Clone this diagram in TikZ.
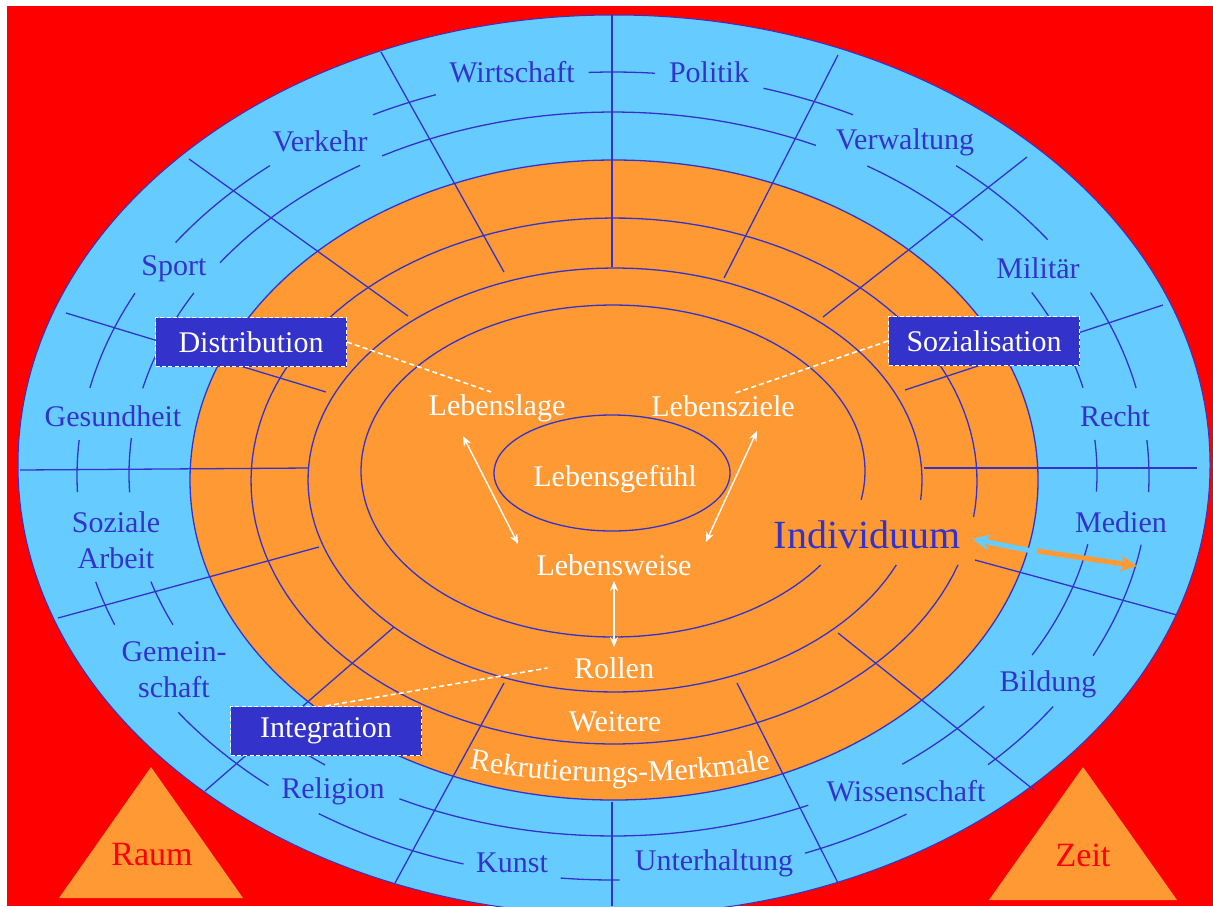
\documentclass[tikz,border=0pt]{standalone}
\usepackage{fontspec}
\setmainfont{Liberation Serif}
\usetikzlibrary{arrows.meta,decorations.text}

\definecolor{bgred}{RGB}{255,0,0}
\definecolor{ringblue}{RGB}{102,204,255}
\definecolor{ringorange}{RGB}{255,153,51}
\definecolor{lineblue}{RGB}{51,51,204}

\begin{document}
\begin{tikzpicture}[x=0.5pt, y=-0.5pt,
	grid/.style={draw=lineblue, line width=0.65pt},
	field/.style={text=lineblue, font=\fontsize{15}{18}\selectfont, align=center, inner sep=1pt},
	life/.style={text=white, font=\fontsize{15}{18}\selectfont, inner sep=1pt},
	sector/.style={fill=lineblue, draw=white, line width=0.6pt, dash pattern=on 2pt off 1.2pt,
		text=white, font=\fontsize{15}{18}\selectfont, minimum width=95.5pt, minimum height=24.5pt},
	link/.style={draw=white, line width=0.8pt, dash pattern=on 2.5pt off 1.6pt},
	lifearrow/.style={draw=white, line width=0.7pt, {Stealth[length=5pt,width=4pt]}-{Stealth[length=5pt,width=4pt]}},
	axis/.style={text=bgred, font=\fontsize{17}{20}\selectfont},
]
\useasboundingbox (0,0) rectangle (1213,906);
\clip (0,0) rectangle (1213,906);
\fill[white] (0,0) rectangle (1213,906);
\fill[bgred] (7,6) rectangle (1213,906);

% rings
\filldraw[fill=ringblue, draw=lineblue, line width=0.5pt] (614,465) ellipse [x radius=596, y radius=450];
\filldraw[fill=ringorange, grid] (614,480) ellipse [x radius=424, y radius=320];
\foreach \cx/\cy/\rx/\ry/\a/\b in {614/481/363/263/18.6/367.9, 615/480/307/212/23.6/365.4, 613/471/252/166/34.5/370}
	\draw[grid] plot[domain=\a:\b, samples=150] ({\cx+\rx*cos(\x)},{\cy+\ry*sin(\x)});
\draw[grid] (612,473) ellipse [x radius=118, y radius=58];

% sector lines
\foreach \xa/\ya/\xb/\yb in {612/15/612/267, 381/52/504/272, 189/159/408/316, 66/313/326/392,
	20/470/308/468, 58/618/319/547, 205/791/394/627, 395/883/504/683, 612/802/612/906,
	838/883/737/683, 1034/790/838/633, 1177/615/975/560, 1197/468/924/468,
	1163/305/905/390, 1027/157/823/317, 838/55/724/278}
	\draw[grid] (\xa,\ya) -- (\xb,\yb);

% broken arcs of the outer field
\foreach \a/\b in {-92.6/-85.5, -116.6/-109.3, -144.7/-129.8, -167.4/-153.1, 177.7/185.1, 158.4/164.8,
	130/144.2, 106.2/123.3, 89.3/95.6, 56.8/69, 34.8/45.6, 9.8/26.4, -5.1/2.3, -27/-12.6, -50.2/-35.8, -73.7/-63.4}
	\draw[grid] plot[domain=\a:\b, samples=20] ({613+536*cos(\x)},{476+404*sin(\x)});
\foreach \a/\b in {-118.5/-65.2, -144.3/-121.5, -166.3/-150, 177.1/185.7, 155.4/162.7, 126.5/140,
	66.2/116.2, 39.9/53.3, 11.2/30, -5.4/2.8, -30.1/-13.8, -58.3/-40.2}
	\draw[grid] plot[domain=\a:\b, samples=30] ({613+484*cos(\x)},{474+362*sin(\x)});

% fields
\node[field] (wirt) at (512,72) {Wirtschaft};
\node[field] (pol) at (709,72) {Politik};
\node[field] (verk) at (320,141) {Verkehr};
\node[field] (verw) at (905,142) {Verwaltung};
\node[field] (sport) at (174,269) {Sport};
\node[field] (mil) at (1038,268) {Militär};
\node[field] (ges) at (113,416) {Gesundheit};
\node[field] (recht) at (1115,416) {Recht};
\node[field] (sozarb) at (116,540) {Soziale\\Arbeit};
\node[field] (med) at (1121,522) {Medien};
\node[field] (gem) at (174,670) {Gemein-\\schaft};
\node[field] (bild) at (1048,684) {Bildung};
\node[field] (rel) at (333,791) {Religion};
\node[field] (wiss) at (906,791) {Wissenschaft};
\node[field] (kunst) at (512,863) {Kunst};
\node[field] (unter) at (714,863) {Unterhaltung};
\node[field, font=\fontsize{20}{24}\selectfont] (ind) at (867,535) {Individuum};

% inner circle
\node[life] (lage) at (497,408) {Lebenslage};
\node[life] (ziele) at (723,406) {Lebensziele};
\node[life] (gefuehl) at (615,479) {Lebensgefühl};
\node[life] (weise) at (614,565) {Lebensweise};
\node[life] (rollen) at (614,668) {Rollen};
\node[life] (weitere) at (615,722) {Weitere};
\path[decorate, decoration={text along path, text align=center,
	text={|\color{white}\fontsize{15}{18}\selectfont|Rekrutierungs-Merkmale}}]
	(362,728) .. controls (450,800) and (790,800) .. (878,728);

\draw[lifearrow] ([shift={(-17pt,-6pt)}]lage.south) -- ([shift={(-8pt,4pt)}]weise.north west);
\draw[lifearrow] ([shift={(17pt,-6pt)}]ziele.south) -- ([shift={(6pt,5pt)}]weise.north east);
\draw[lifearrow] ([yshift=-1.5pt]weise.south) -- ([yshift=4pt]rollen.north);

% functions
\node[sector] (dist) at (251,342) {Distribution};
\node[sector] (sozi) at (984,341) {Sozialisation};
\node[sector] (integ) at (326,731) {Integration};
\draw[link] (dist.east) -- ([xshift=-3pt]lage.north);
\draw[link] (sozi.west) -- ([xshift=6pt]ziele.north);
\draw[link] (integ.north) -- ([xshift=-12pt]rollen.west);

% individuum arrow
\coordinate (indmid) at (1032,551);
\coordinate (medtip) at (1137,566);
\draw[ringblue, line width=2.5pt, -{Stealth[length=8.5pt,width=8pt]}] (indmid) -- ([shift={(5pt,-2pt)}]ind.east);
\draw[ringorange, line width=2.5pt, -{Stealth[length=8.5pt,width=8pt]}] ([xshift=2.5pt]indmid) -- (medtip);

% space and time
\fill[ringorange] (151,767) -- (243,898) -- (59,898) -- cycle;
\fill[ringorange] (1083,767) -- (1177,900) -- (989,900) -- cycle;
\node[axis] (raum) at (152,855) {Raum};
\node[axis] (zeit) at (1083,855) {Zeit};
\end{tikzpicture}
\end{document}
